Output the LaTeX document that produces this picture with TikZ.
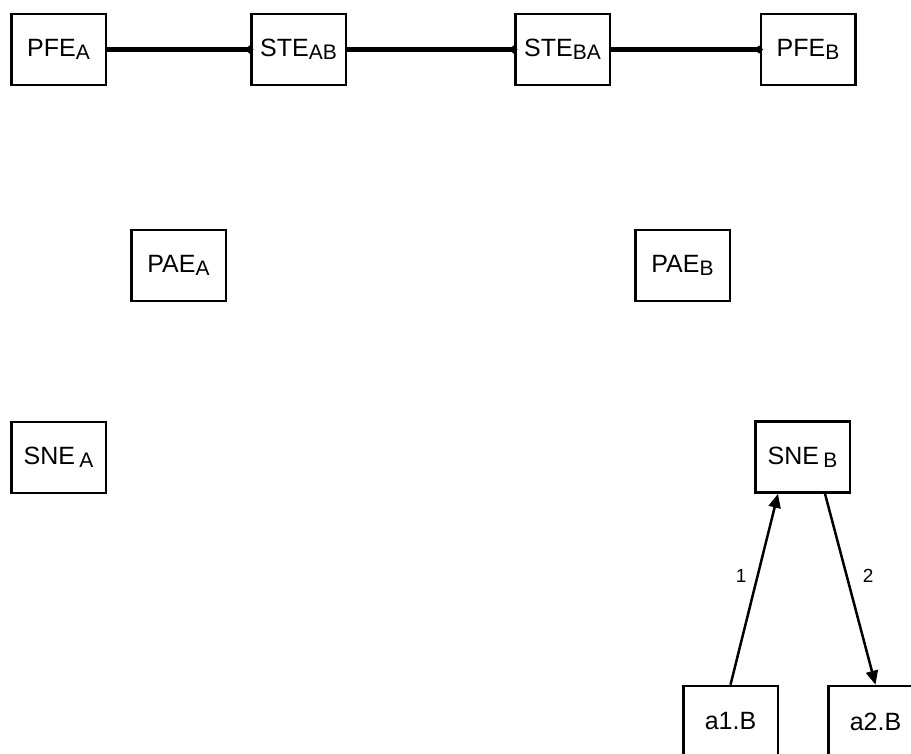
\documentclass[tikz,border=0pt]{standalone}
\usepackage{fontspec}
\setmainfont{Liberation Sans}
\usetikzlibrary{arrows.meta,quotes}

\newcommand{\lowsub}[1]{\raisebox{-3pt}{\fontsize{21}{25}\selectfont #1}}

\begin{document}
\begin{tikzpicture}[x=1pt,y=-1pt,
  entity/.style={rectangle,draw,line width=2.5pt,minimum width=94.5pt,minimum height=71pt,inner sep=0pt,font=\fontsize{25}{30}\selectfont},
  link/.style={draw,line width=4.5pt,-{Circle[length=7pt]},shorten >=-3pt},
  line/.style={draw,line width=2.5pt,-{Triangle[length=14pt,width=12pt]}},
  lbl/.style={font=\fontsize{19}{23}\selectfont,inner sep=0pt}]

  \useasboundingbox (0,0) rectangle (911,754);

  % top row
  \node [entity] (pfeA) at (58.5,49.5) {PFE\lowsub{A}};
  \node [entity] (steAB) at (298.5,49.5) {STE\lowsub{AB}};
  \node [entity] (steBA) at (562.5,49.5) {STE\lowsub{BA}};
  \node [entity] (pfeB) at (808,49.5) {PFE\lowsub{B}};
  \foreach \a/\b in {pfeA/steAB, steAB/steBA, steBA/pfeB}
    \draw [link] (\a) -- (\b);

  \node [entity] (paeA) at (178.5,265.5) {PAE\lowsub{A}};
  \node [entity] (paeB) at (682.5,265.5) {PAE\lowsub{B}};

  \node [entity] (sneA) at (58.5,457.5) {SNE\,\lowsub{A}};
  \node [entity] (sneB) at (802.5,457) {SNE\,\lowsub{B}};

  \node [entity] (a1B) at (730.5,721.5) {a1.B};
  \node [entity] (a2B) at (875.5,721.5) {a2.B};

  \draw [line] (a1B.north) -- node [lbl,pos=0.57,anchor=east,xshift=-10pt] {1} ([xshift=-24.5pt]sneB.south);
  \draw [line] ([xshift=22.5pt]sneB.south) -- node [lbl,pos=0.43,anchor=west,xshift=15pt] {2} (a2B.north);
\end{tikzpicture}
\end{document}
